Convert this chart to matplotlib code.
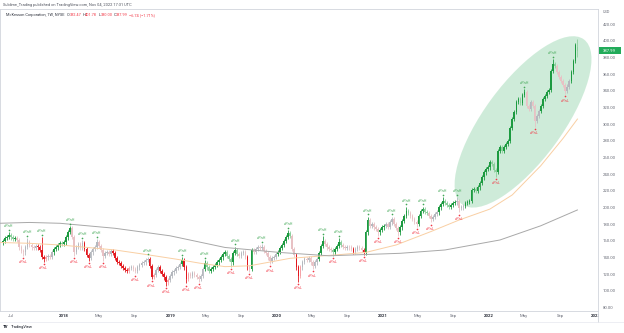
import matplotlib
matplotlib.use("Agg")
import matplotlib.pyplot as plt
from matplotlib.patches import Ellipse, Rectangle
from matplotlib.transforms import IdentityTransform, offset_copy
from matplotlib.lines import Line2D
import numpy as np
import pandas as pd

plt.rcParams['font.family'] = ['Roboto', 'DejaVu Sans']

# ---------------- DATA ----------------
start_week = "2017-06-05"
first_open = 158.0

# weekly closes, MCK
closes = [
    160, 163, 165, 167, 164, 162, 163, 161, 152, 148,
    146, 153, 159, 155, 152, 151, 154, 152, 149, 141,
    138, 140, 142, 141, 146, 150, 152, 155, 157, 156,
    158, 164, 171, 175, 165, 147, 153, 156, 152, 157,
    150, 143, 139, 146, 150, 153, 158, 154, 149, 142,
    145, 147, 144, 148, 145, 139, 135, 133, 130, 127,
    125, 124, 127, 129, 126, 124, 128, 131, 133, 134,
    137, 138, 130, 117, 119, 125, 128, 124, 120, 116,
    110, 113, 118, 122, 124, 127, 129, 132, 137, 128,
    114, 120, 118, 121, 119, 117, 114, 118, 126, 133,
    128, 124, 126, 129, 131, 134, 137, 140, 144, 146,
    142, 138, 134, 145, 149, 144, 142, 145, 146, 141,
    128, 126, 149, 147, 150, 152, 151, 153, 148, 145,
    140, 136, 139, 141, 144, 147, 151, 155, 160, 165,
    169, 166, 150, 143, 128, 118, 128, 135, 138, 137,
    139, 134, 130, 134, 138, 145, 154, 160, 156, 152,
    150, 149, 146, 150, 154, 159, 155, 153, 151, 153,
    152, 150, 147, 150, 153, 151, 149, 146, 170, 185,
    178, 180, 176, 174, 170, 173, 176, 178, 180, 177,
    182, 186, 180, 175, 170, 176, 184, 190, 196, 193,
    190, 186, 183, 180, 190, 196, 198, 195, 193, 190,
    186, 189, 192, 194, 200, 204, 208, 205, 203, 201,
    203, 205, 206, 208, 199, 200, 202, 205, 207, 208,
    221, 222, 220, 224, 229, 236, 242, 246, 248, 254,
    252, 245, 243, 268, 272, 268, 272, 276, 280, 295,
    306, 314, 326, 330, 325, 335, 338, 322, 318, 326,
    322, 304, 310, 316, 322, 330, 334, 338, 341, 364,
    372, 370, 362, 356, 352, 347, 340, 345, 352, 362,
    376, 394.73, 387.99,
]
open_fix = {282: 392.47}
high_fix = {282: 401.78}
low_fix = {282: 380.00}

pivot_highs = {3: 170, 12: 163, 19: 164, 33: 178, 39: 161, 46: 162, 71: 141,
               88: 140, 99: 137, 114: 153, 127: 156, 140: 173, 157: 166,
               165: 163, 179: 189, 191: 189, 198: 201, 206: 201, 216: 212,
               223: 212, 256: 342, 270: 378}
pivot_lows = {10: 142, 20: 135, 35: 142, 42: 136, 49: 136, 65: 121, 73: 114,
              80: 106, 90: 109, 96: 111, 112: 129, 121: 123, 131: 132,
              145: 111, 152: 126, 162: 142, 177: 143, 184: 166, 194: 166,
              203: 177, 210: 182, 224: 194, 242: 237, 261: 297, 276: 336}

# bar colouring regime: week index where it starts
trend_start = [0, 7, 17, 22, 25, 34, 40, 43, 54, 63, 72, 75, 77, 82, 88,
               89, 92, 99, 116, 120, 121, 122, 123, 135, 142, 144, 147, 155,
               158, 162, 167, 172, 173, 177, 178, 180, 185, 188, 195, 200,
               204, 209, 214, 223, 227, 257, 264, 272, 279]
trend_state = ["up", "flat", "down", "flat", "up", "flat", "down", "flat",
               "down", "flat", "down", "flat", "down", "flat", "up", "down",
               "flat", "up", "flat", "down", "flat", "up", "flat", "up",
               "flat", "down", "flat", "up", "flat", "up", "flat", "down",
               "flat", "down", "up", "flat", "up", "flat", "up", "flat", "up",
               "flat", "up", "flat", "up", "flat", "up", "flat", "up"]

# moving averages (week index, price)
ma50_week = [-2, 13, 28, 55, 69, 85, 97, 109, 121, 141, 163, 178, 193, 210,
             224, 239, 250, 264, 275, 282]
ma50_value = [158, 157, 155, 149, 144, 138, 133, 129, 130, 139, 143, 146,
              155, 171, 185, 198, 215, 250, 283, 306]
ma200_week = [-2, 13, 28, 55, 82, 109, 136, 160, 195, 217, 244, 264, 282]
ma200_value = [181, 182, 181, 175, 166, 152, 146, 142, 145, 149, 161, 178, 197]

ellipse_center = (255.3, 302.6)

month_ticks = ["2017-07-01", "2018-01-01", "2018-05-01", "2018-09-01",
               "2019-01-01", "2019-05-01", "2019-09-01", "2020-01-01",
               "2020-05-01", "2020-09-01", "2021-01-01", "2021-05-01",
               "2021-09-01", "2022-01-01", "2022-05-01", "2022-09-01",
               "2023-01-01"]
month_labels = ["Jul", "2018", "May", "Sep", "2019", "May", "Sep", "2020",
                "May", "Sep", "2021", "May", "Sep", "2022", "May", "Sep", "2023"]
price_ticks = list(range(80, 421, 20))

# ---------------- STYLE ----------------
W, H = 624, 333
WICK = 2.5
GREEN_TXT = "#43a857"
RED_TXT = "#f23645"
AXIS_TXT = "#6a6d78"
bar_colors = {
    ("up", True): "#1c9a40", ("up", False): "#8ccf9c",
    ("down", True): "#f4a3a7", ("down", False): "#e2191f",
    ("flat", True): "#b4b8be", ("flat", False): "#e8c1c4",
}

# ---------------- BUILD OHLC ----------------
n = len(closes)
weeks = np.arange(n)
closes_a = np.array(closes, dtype=float)
opens = np.concatenate([[first_open], closes_a[:-1]])
for k, v in open_fix.items():
    opens[k] = v
highs = np.maximum(opens, closes_a) + WICK
lows = np.minimum(opens, closes_a) - WICK
for d in (pivot_highs, high_fix):
    for k, v in d.items():
        highs[k] = v
for d in (pivot_lows, low_fix):
    for k, v in d.items():
        lows[k] = v

state = []
seg = 0
for i in range(n):
    while seg + 1 < len(trend_start) and i >= trend_start[seg + 1]:
        seg += 1
    state.append(trend_state[seg])
colors = [bar_colors[(state[i], closes_a[i] >= opens[i])] for i in range(n)]

# ---------------- FIGURE ----------------
fig = plt.figure(figsize=(W / 100, H / 100), dpi=100)
fig.patch.set_facecolor("white")
ax = fig.add_axes([0, (H - 311) / H, 598 / W, (311 - 9) / H])
ax.set_xlim(-1.47, 292.1)
ax.set_ylim(75.8, 438)

# candles
ax.vlines(weeks, lows, highs, colors=colors, lw=0.6, zorder=3)
body_h = np.maximum(np.abs(closes_a - opens), 1.0)
ax.bar(weeks, body_h, bottom=np.minimum(opens, closes_a), width=0.8,
       color=colors, linewidth=0, zorder=3)

# moving averages
ax.plot(ma50_week, ma50_value, color="#f9cfa3", lw=0.7, zorder=4)
ax.plot(ma200_week, ma200_value, color="#a8a8a8", lw=0.7, zorder=4)

# pivots
dot_up = offset_copy(ax.transData, fig=fig, x=0, y=2.2, units='dots')
txt_up = offset_copy(ax.transData, fig=fig, x=0, y=6.0, units='dots')
dot_dn = offset_copy(ax.transData, fig=fig, x=0, y=-2.2, units='dots')
txt_dn = offset_copy(ax.transData, fig=fig, x=0, y=-6.5, units='dots')
for k, v in pivot_highs.items():
    ax.plot([k], [v], 'o', ms=1.2, color=GREEN_TXT, mew=0, transform=dot_up, zorder=5)
    ax.text(k, v, "wPivH", transform=txt_up, ha='center', va='center',
            fontsize=2.4, color=GREEN_TXT, zorder=5)
for k, v in pivot_lows.items():
    ax.plot([k], [v], 'o', ms=1.2, color=RED_TXT, mew=0, transform=dot_dn, zorder=5)
    ax.text(k, v, "wPivL", transform=txt_dn, ha='center', va='center',
            fontsize=2.4, color=RED_TXT, zorder=5)

# highlighted zone
ex, ey = ax.transData.transform(ellipse_center)
ax.add_patch(Ellipse((ex, ey), 205, 78, angle=53.6, transform=IdentityTransform(),
                     facecolor="#3fb36a", alpha=0.25, lw=0, zorder=1))

# axes
ax.yaxis.tick_right()
ax.set_yticks(price_ticks)
ax.set_yticklabels([f"{p:.2f}" for p in price_ticks])
ax.tick_params(axis='y', length=0, pad=3.6, labelsize=3.1, labelcolor=AXIS_TXT)
start = pd.Timestamp(start_week)
ax.set_xticks([(pd.Timestamp(d) - start).days / 7 for d in month_ticks])
ax.set_xticklabels(month_labels)
ax.tick_params(axis='x', length=0, pad=2.4, labelsize=3.1, labelcolor=AXIS_TXT)
for lbl in ax.get_xticklabels():
    if lbl.get_text().isdigit():
        lbl.set_fontweight("bold")
        lbl.set_color("#2a2e39")
for side in ["top", "left", "bottom", "right"]:
    ax.spines[side].set_color("#d1d4dc")
    ax.spines[side].set_linewidth(0.6)

# cover for the clipped time label under the price scale
fig.add_artist(Rectangle((598.5 / W, 0), (W - 598.5) / W, (H - 311.3) / H,
                         transform=fig.transFigure, facecolor="white",
                         edgecolor="none", zorder=5))
fig.add_artist(Line2D([598 / W, 598 / W], [(H - 322) / H, (H - 311) / H],
                      transform=fig.transFigure, color="#d1d4dc", lw=0.6, zorder=6))
fig.add_artist(Line2D([0, 1], [(H - 322) / H, (H - 322) / H],
                      transform=fig.transFigure, color="#e6e8ee", lw=0.5, zorder=6))

# last price tag
_, py = ax.transData.transform((0, closes_a[-1]))
fig.add_artist(Rectangle((598.5, py - 3.8), 22, 7.6, transform=IdentityTransform(),
                         facecolor="#22ab5a", edgecolor="none", zorder=7))
fig.text(609.5 / W, py / H, f"{closes_a[-1]:.2f}", ha='center', va='center',
         fontsize=3.0, color="white", zorder=8)
fig.text(603 / W, 1 - 12 / H, "USD", ha='left', va='center', fontsize=2.8,
         color=AXIS_TXT)

# header and legend
fig.text(3 / W, 1 - 5 / H, "Sublime_Trading published on TradingView.com, Nov 04, 2022 17:31 UTC",
         ha='left', va='center', fontsize=2.9, color="#50535e")

renderer = fig.canvas.get_renderer()
legend_parts = [("McKesson Corporation, 1W, NYSE", "#2a2e39", 2.2),
                ("O", "#2a2e39", 0), ("392.47", RED_TXT, 1.2),
                ("H", "#2a2e39", 0), ("401.78", RED_TXT, 1.2),
                ("L", "#2a2e39", 0), ("380.00", RED_TXT, 1.2),
                ("C", "#2a2e39", 0), ("387.99", RED_TXT, 1.6),
                ("\u22126.74 (\u22121.71%)", RED_TXT, 0)]
lx = 6.0
for txt, col, gap in legend_parts:
    t = fig.text(lx / W, 1 - 15 / H, txt, ha='left', va='center',
                 fontsize=2.8, color=col)
    lx += t.get_window_extent(renderer).width + gap

# footer
fig.text(3 / W, 1 - 327 / H, "TV", ha='left', va='center', fontsize=3.2,
         fontweight='bold', color="#131722")
fig.text(11 / W, 1 - 327 / H, "TradingView", ha='left', va='center', fontsize=2.9,
         color="#131722")

fig.savefig("out.png", dpi=100, facecolor="white")
